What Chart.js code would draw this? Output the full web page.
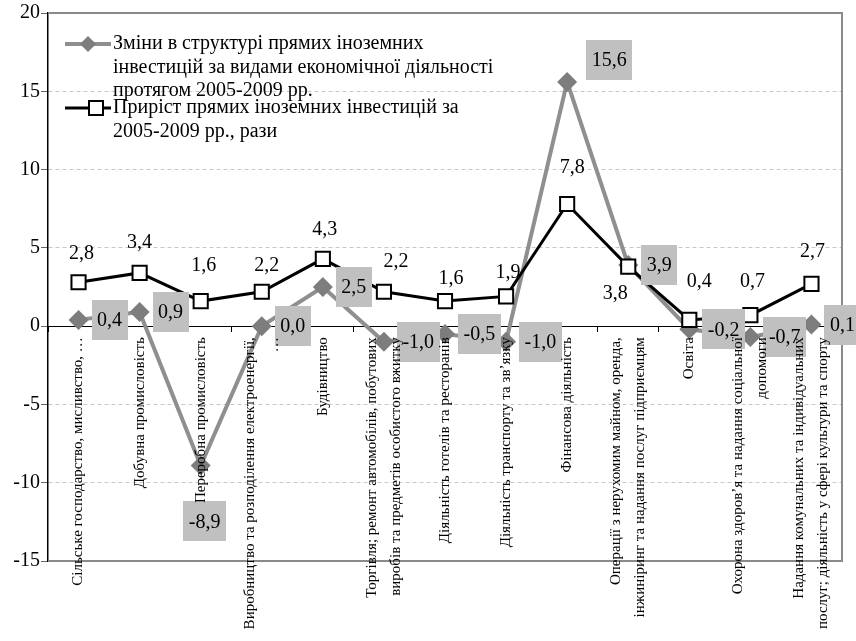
<!DOCTYPE html>
<html>
<head>
<meta charset="utf-8">
<script src="https://cdn.jsdelivr.net/npm/chart.js@4/dist/chart.umd.min.js"></script>
<style>
  html, body { margin: 0; padding: 0; background: #fff; }
  #wrap { width: 856px; height: 641px; }
</style>
</head>
<body>
<div id="wrap"><canvas id="chart" width="856" height="641"></canvas></div>
<script>
// kinds of economic activity
const categories = [
  ['Сільське господарство, мисливство, …'],
  ['Добувна промисловість'],
  ['Переробна промисловість'],
  ['Виробництво та розподілення електроенергії,', '…'],
  ['Будівництво'],
  ['Торгівля; ремонт автомобілів, побутових', 'виробів та предметів особистого вжитку'],
  ['Діяльність готелів та ресторанів'],
  ['Діяльність транспорту та зв\u2019язку'],
  ['Фінансова діяльність'],
  ['Операції з нерухомим майном, оренда,', 'інжиніринг та надання послуг підприємцям'],
  ['Освіта'],
  ['Охорона здоров\u2019я та надання соціальної', 'допомоги'],
  ['Надання комунальних та індивідуальних', 'послуг; діяльність у сфері культури та спорту']
];

// series values
const structureChange = [0.4, 0.9, -8.9, 0.0, 2.5, -1.0, -0.5, -1.0, 15.6, 3.9, -0.2, -0.7, 0.1];
const growthTimes = [2.8, 3.4, 1.6, 2.2, 4.3, 2.2, 1.6, 1.9, 7.8, 3.8, 0.4, 0.7, 2.7];

// legend text
const structureName = ['Зміни в структурі прямих іноземних', 'інвестицій за видами економічної діяльності', 'протягом 2005-2009 рр.'];
const growthName = ['Приріст прямих іноземних інвестицій за', '2005-2009 рр., рази'];

// value axis
const yMin = -15;
const yMax = 20;
const yStep = 5;

const SERIF = "'Liberation Serif', 'Times New Roman', serif";
const GRAY_LINE = '#8f8f8f';
const GRAY_MARK = '#7d7d7d';
const BOX = '#c0c0c0';

function fmt(v) {
  return v.toFixed(1).replace('.', ',');
}

// gray frame on top, right and bottom of the plot
const framePlugin = {
  id: 'frame',
  beforeDatasetsDraw(chart) {
    const { ctx, chartArea: a } = chart;
    ctx.save();
    ctx.strokeStyle = '#8a8a8a';
    ctx.lineWidth = 2;
    ctx.beginPath();
    ctx.moveTo(a.left, a.top);
    ctx.lineTo(a.right, a.top);
    ctx.lineTo(a.right, a.bottom);
    ctx.lineTo(a.left, a.bottom);
    ctx.stroke();
    ctx.restore();
  }
};

// value labels, then category names drawn vertically under the zero line
const labelPlugin = {
  id: 'labels',
  afterDatasetsDraw(chart) {
    const { ctx } = chart;
    const xs = chart.scales.x;
    const ys = chart.scales.y;
    const zero = ys.getPixelForValue(0);

    ctx.save();
    ctx.font = '20px ' + SERIF;
    ctx.textAlign = 'center';
    ctx.textBaseline = 'middle';

    // boxed labels of the structure series
    const grayMeta = chart.getDatasetMeta(0);
    grayMeta.data.forEach((pt, i) => {
      const txt = fmt(structureChange[i]);
      const w = ctx.measureText(txt).width + 11;
      const h = 40;
      let cx = pt.x + 13 + w / 2;
      let cy = pt.y;
      if (i === 2) { cx = pt.x + 4; cy = pt.y + 56; }
      if (i === 8) { cx = pt.x + 42; cy = pt.y - 22; }
      ctx.fillStyle = BOX;
      ctx.fillRect(Math.round(cx - w / 2), Math.round(cy - h / 2), Math.round(w), h);
      ctx.fillStyle = '#000';
      ctx.fillText(txt, cx, cy + 1);
    });

    // plain labels of the growth series
    const shift = [[3, -29], [0, -30], [3, -35], [5, -26], [2, -29], [12, -30], [6, -22],
                   [2, -24], [5, -36], [-13, 27], [10, -38], [2, -33], [1, -32]];
    const blackMeta = chart.getDatasetMeta(1);
    blackMeta.data.forEach((pt, i) => {
      ctx.fillStyle = '#000';
      ctx.fillText(fmt(growthTimes[i]), pt.x + shift[i][0], pt.y + shift[i][1]);
    });
    ctx.restore();

    ctx.save();
    ctx.fillStyle = '#000';
    ctx.font = '15px ' + SERIF;
    ctx.textAlign = 'right';
    ctx.textBaseline = 'middle';
    categories.forEach((lines, i) => {
      const x = xs.getPixelForValue(i);
      ctx.save();
      ctx.translate(x, zero + 11);
      ctx.rotate(-Math.PI / 2);
      lines.forEach((t, j) => {
        ctx.fillText(t, 0, (j - (lines.length - 1) / 2) * 24);
      });
      ctx.restore();
    });
    ctx.restore();
  },
  afterDraw(chart) {
    const { ctx } = chart;
    ctx.save();
    ctx.font = '20px ' + SERIF;
    ctx.textAlign = 'left';
    ctx.textBaseline = 'middle';
    ctx.fillStyle = '#000';

    // structure series
    let y = 44;
    ctx.strokeStyle = GRAY_LINE;
    ctx.lineWidth = 4;
    ctx.beginPath();
    ctx.moveTo(65, y);
    ctx.lineTo(111, y);
    ctx.stroke();
    ctx.fillStyle = GRAY_MARK;
    ctx.beginPath();
    ctx.moveTo(88 - 8, y);
    ctx.lineTo(88, y - 8);
    ctx.lineTo(88 + 8, y);
    ctx.lineTo(88, y + 8);
    ctx.closePath();
    ctx.fill();
    ctx.fillStyle = '#000';
    structureName.forEach((t, j) => ctx.fillText(t, 113, y + j * 23.5));

    // growth series
    y = 108;
    ctx.strokeStyle = '#000';
    ctx.lineWidth = 3;
    ctx.beginPath();
    ctx.moveTo(65, y);
    ctx.lineTo(111, y);
    ctx.stroke();
    ctx.fillStyle = '#fff';
    ctx.lineWidth = 2;
    ctx.fillRect(89, y - 7, 14, 14);
    ctx.strokeRect(89, y - 7, 14, 14);
    ctx.fillStyle = '#000';
    growthName.forEach((t, j) => ctx.fillText(t, 113, y + j * 23.5));
    ctx.restore();
  }
};

new Chart(document.getElementById('chart'), {
  type: 'line',
  data: {
    labels: categories,
    datasets: [
      {
        label: structureName.join(' '),
        data: structureChange,
        borderColor: GRAY_LINE,
        borderWidth: 4,
        pointStyle: 'rectRot',
        pointRadius: 10,
        pointBackgroundColor: GRAY_MARK,
        pointBorderColor: GRAY_MARK,
        pointBorderWidth: 0,
        tension: 0,
        order: 1
      },
      {
        label: growthName.join(' '),
        data: growthTimes,
        borderColor: '#000',
        borderWidth: 3,
        pointStyle: 'rect',
        pointRadius: 10,
        pointBackgroundColor: '#fff',
        pointBorderColor: '#000',
        pointBorderWidth: 2,
        tension: 0,
        order: 0
      }
    ]
  },
  options: {
    responsive: false,
    animation: false,
    layout: { padding: { left: 0, top: 13, right: 14, bottom: 80 } },
    plugins: {
      legend: { display: false },
      tooltip: { enabled: false }
    },
    scales: {
      x: {
        type: 'category',
        position: { y: 0 },
        offset: true,
        ticks: { display: false },
        grid: {
          offset: true,
          drawOnChartArea: false,
          drawTicks: true,
          tickLength: 5,
          tickColor: '#000'
        },
        border: { color: '#000', width: 1 },
        afterFit(s) { s.height = 0; }
      },
      y: {
        min: yMin,
        max: yMax,
        ticks: {
          stepSize: yStep,
          color: '#000',
          padding: 1,
          font: { family: SERIF, size: 20 }
        },
        grid: {
          color: (c) => {
            const v = c.tick ? c.tick.value : null;
            return (v === 0 || v === yMin || v === yMax) ? 'rgba(0,0,0,0)' : '#c8c8c8';
          },
          lineWidth: 1,
          tickLength: 7,
          tickColor: '#666',
          tickBorderDash: []
        },
        border: { color: '#000', width: 1.5, dash: [4, 3] },
        afterFit(s) { s.width = 48; }
      }
    }
  },
  plugins: [framePlugin, labelPlugin]
});
</script>
</body>
</html>
